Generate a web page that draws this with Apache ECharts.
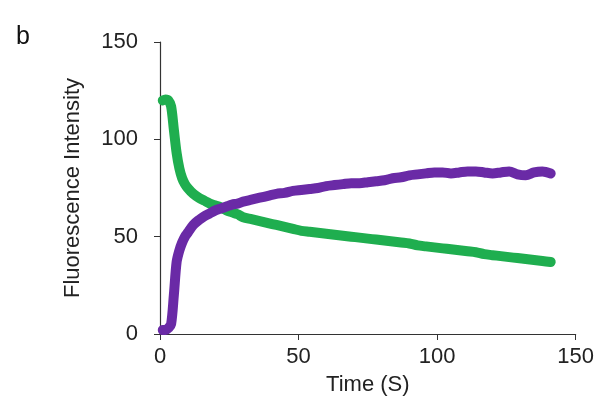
<!DOCTYPE html>
<html>
<head>
<meta charset="utf-8">
<script src="https://cdn.jsdelivr.net/npm/echarts@6/dist/echarts.min.js"></script>
<style>
  html, body { margin: 0; padding: 0; background: #fff; }
  #chart { width: 597px; height: 412px; }
</style>
</head>
<body>
<div id="chart"></div>
<script>
// time points (s)
var times = [1,2,3,4,5,6,7,8,9,10,12,14,16,18,20,22,24,26,28,30,33,36,39,42,45,48,51,54,57,60,63,66,69,72,75,78,81,84,87,90,93,96,99,102,105,108,111,114,117,120,123,126,129,132,135,138,141]
// green trace
var greenVals = [120,120.5,120,117,105,93,85,80,77,75,72,70,68.5,67,66,65,63.5,62.5,61.5,60,59,58,57,56,55,54,53,52.5,52,51.5,51,50.5,50,49.5,49,48.5,48,47.5,47,46.5,45.5,45,44.5,44,43.5,43,42.5,42,41,40.5,40,39.5,39,38.5,38,37.5,37]
// purple trace
var purpleVals = [2,2,3,5,20,37,43,47,50,52,56,58.5,60.5,62,63.5,64.5,65.5,66.5,67,68,69,70,71,72,72.5,73.5,74,74.5,75,76,76.5,77,77.5,77.5,78,78.5,79,80,80.5,81.5,82,82.5,83,83,82.5,83,83.5,83.5,83,82.5,83,83.5,82,81.5,83,83.5,82.5]

function pairs(vals) {
    return times.map(function (t, i) { return [t, vals[i]] })
}

var chart = echarts.init(document.getElementById('chart'))
var font = '"Liberation Sans", Arial, sans-serif'
var axisLine = {show: true, lineStyle: {color: '#333', width: 1.2}}

var option = {
    animation: false,
    textStyle: {fontFamily: font},
    title: {
        text: 'b', left: 11, top: 20,
        textStyle: {fontSize: 25, fontWeight: 'normal', color: '#111', fontFamily: font}
    },
    grid: {left: 160, right: 20, top: 42, bottom: 78},
    xAxis: {
        type: 'value', min: 0, max: 150, interval: 50,
        name: 'Time (S)', nameLocation: 'middle', nameGap: 40,
        nameTextStyle: {fontSize: 22, color: '#222'},
        axisLine: axisLine,
        axisTick: {show: true, length: 6, lineStyle: {color: '#333'}},
        axisLabel: {fontSize: 22, color: '#222', margin: 12},
        splitLine: {show: false}
    },
    yAxis: {
        type: 'value', min: 0, max: 150, interval: 50,
        name: 'Fluorescence Intensity', nameLocation: 'middle', nameGap: 76,
        nameTextStyle: {fontSize: 22, color: '#222'},
        axisLine: axisLine,
        axisTick: {show: true, length: 6, lineStyle: {color: '#333'}},
        axisLabel: {fontSize: 22, color: '#222', margin: 22},
        splitLine: {show: false}
    },
    series: [{
        type: 'line', data: pairs(greenVals), showSymbol: false, smooth: 0.3,
        lineStyle: {color: '#1fae4f', width: 10, cap: 'round', join: 'round'}
    }, {
        type: 'line', data: pairs(purpleVals), showSymbol: false, smooth: 0.3,
        lineStyle: {color: '#6a2aa6', width: 10, cap: 'round', join: 'round'}
    }]
}

chart.setOption(option)
</script>
</body>
</html>
